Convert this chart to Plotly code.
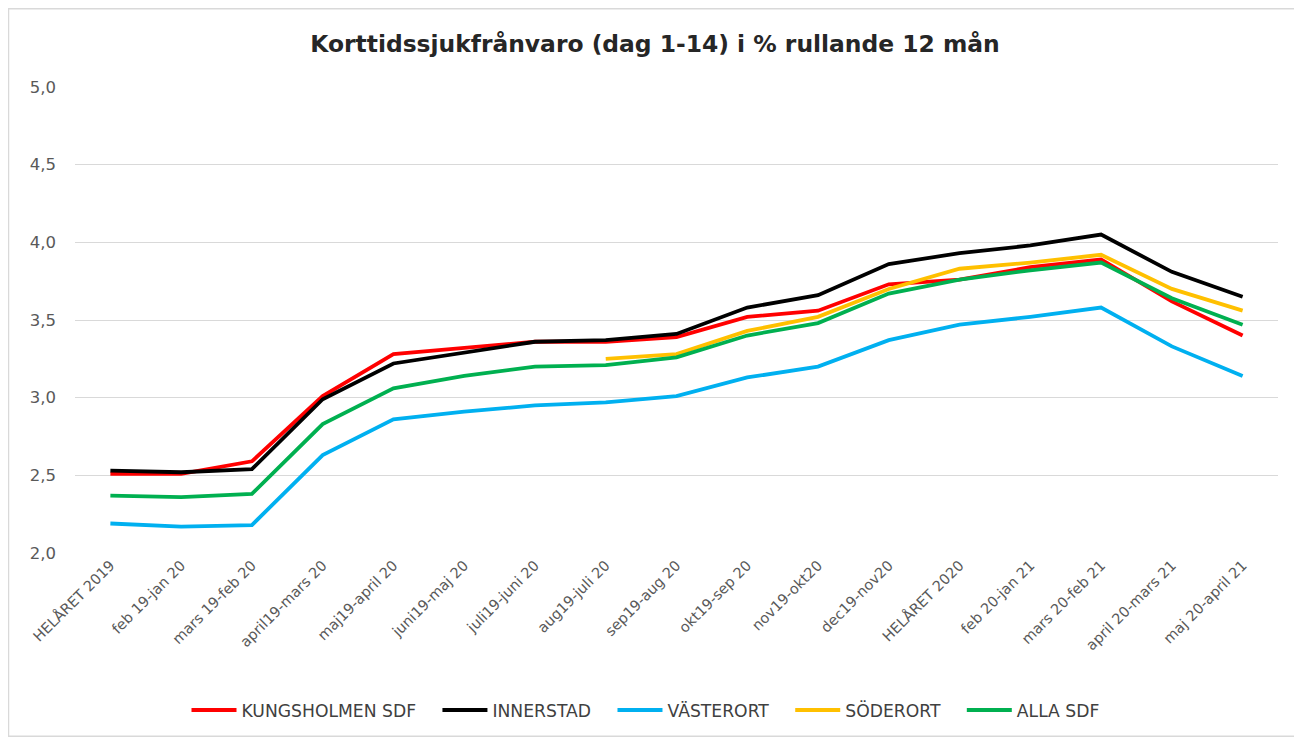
import plotly.graph_objects as go

categories = ["HELÅRET 2019", "feb 19-jan 20", "mars 19-feb 20", "april19-mars 20",
              "maj19-april 20", "juni19-maj 20", "juli19-juni 20", "aug19-juli 20",
              "sep19-aug 20", "okt19-sep 20", "nov19-okt20", "dec19-nov20",
              "HELÅRET 2020", "feb 20-jan 21", "mars 20-feb 21", "april 20-mars 21",
              "maj 20-april 21"]

kungsholmen = [2.51, 2.51, 2.59, 3.01, 3.28, 3.32, 3.36, 3.36, 3.39, 3.52, 3.56,
               3.73, 3.76, 3.84, 3.89, 3.62, 3.40]
innerstad = [2.53, 2.52, 2.54, 2.99, 3.22, 3.29, 3.36, 3.37, 3.41, 3.58, 3.66,
             3.86, 3.93, 3.98, 4.05, 3.81, 3.65]
vasterort = [2.19, 2.17, 2.18, 2.63, 2.86, 2.91, 2.95, 2.97, 3.01, 3.13, 3.20,
             3.37, 3.47, 3.52, 3.58, 3.33, 3.14]
soderort = [None, None, None, None, None, None, None, 3.25, 3.28, 3.43, 3.52,
            3.70, 3.83, 3.87, 3.92, 3.70, 3.56]
alla_sdf = [2.37, 2.36, 2.38, 2.83, 3.06, 3.14, 3.20, 3.21, 3.26, 3.40, 3.48,
            3.67, 3.76, 3.82, 3.87, 3.64, 3.47]

series_names = ["KUNGSHOLMEN SDF", "INNERSTAD", "VÄSTERORT", "SÖDERORT", "ALLA SDF"]
series_values = [kungsholmen, innerstad, vasterort, soderort, alla_sdf]
series_colors = ["#FF0000", "#000000", "#00B0F0", "#FFC000", "#00B050"]

FONT = "DejaVu Sans"
PAD = "\u00a0" * 3  # extra spacing after each legend entry

fig = go.Figure()
for name, vals, color in zip(series_names, series_values, series_colors):
    fig.add_trace(go.Scatter(
        x=categories, y=vals, name=name + PAD, mode="lines",
        line=dict(color=color, width=3.8),
        connectgaps=False,
    ))

# The page body has an 8px margin, so the figure is drawn 8px in from the page edge.
OFF = 8
W, H = 1302 - OFF, 740 - OFF
L, R, T, B = 75 - OFF, 1278 - OFF, 87 - OFF, 555 - OFF
pw, ph = R - L, B - T

def px(x):
    return (x - OFF - L) / pw

def py(y):
    return (B - (y - OFF)) / ph

fig.update_layout(
    width=W, height=H,
    margin=dict(l=L, r=W - R, t=T, b=H - B),
    paper_bgcolor="white", plot_bgcolor="white",
    separators=", ",
    font=dict(family=FONT, color="#595959", size=14),
    title=dict(
        text="<b>Korttidssjukfrånvaro (dag 1-14) i % rullande 12 mån</b>",
        x=px(655), xref="paper", xanchor="center",
        y=1 - (44 - OFF) / H, yref="container", yanchor="middle",
        font=dict(family=FONT, size=23.4, color="#262626"),
    ),
    xaxis=dict(
        type="category", tickangle=-45, showgrid=False, zeroline=False,
        showline=False, ticks="", tickfont=dict(size=14.5, color="#595959"),
        range=[-0.5, len(categories) - 0.5],
    ),
    yaxis=dict(
        range=[2.0, 5.0], dtick=0.5, tick0=2.0, tickformat=".1f",
        showgrid=True, gridcolor="#D9D9D9", gridwidth=1, zeroline=False,
        showline=False, ticks="", ticklabelstandoff=18,
        tickfont=dict(size=16.5, color="#595959"),
    ),
    legend=dict(
        orientation="h", x=px(654), xanchor="center", y=py(713), yanchor="middle",
        font=dict(size=17.2, color="#404040"), itemwidth=45,
        bgcolor="rgba(0,0,0,0)",
    ),
    shapes=[dict(
        type="rect", xref="paper", yref="paper",
        x0=px(8.5), x1=px(1300), y0=py(739), y1=py(8.5),
        line=dict(color="#D9D9D9", width=1.5), fillcolor="rgba(0,0,0,0)", layer="below",
    )],
)

fig.write_html("out.html")
